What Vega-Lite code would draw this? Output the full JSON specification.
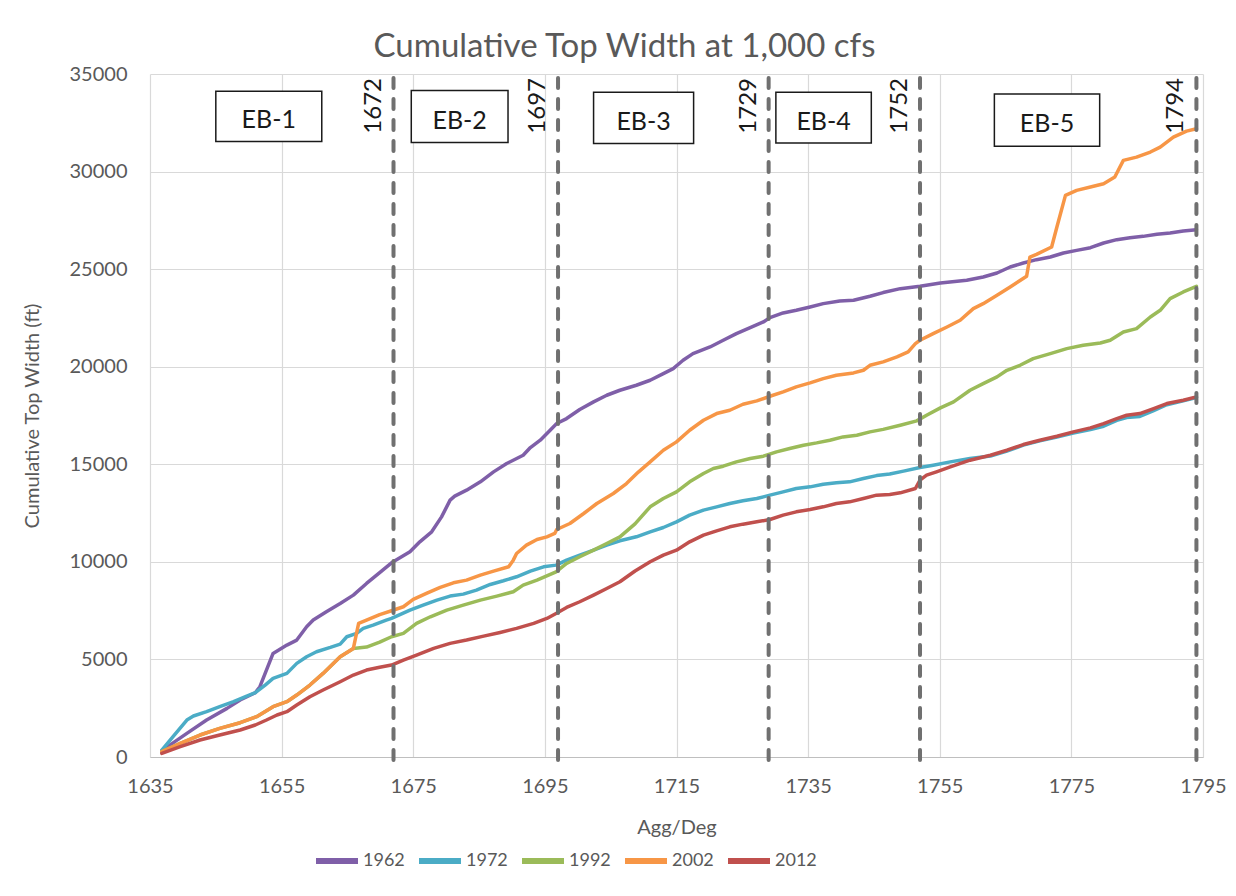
{
  "$schema": "https://vega.github.io/schema/vega-lite/v6.json",
  "autosize": {"type": "none"},
  "width": 1053,
  "height": 683,
  "padding": {"left": 150, "top": 74, "right": 33, "bottom": 139},
  "background": "white",
  "config": {
    "font": "Lato",
    "view": {"stroke": null},
    "axis": {
      "gridColor": "#d9d9d9",
      "gridWidth": 1.2,
      "domainColor": "#bfbfbf",
      "ticks": false,
      "labelColor": "#595959",
      "labelFontSize": 20,
      "titleColor": "#595959",
      "titleFontSize": 20,
      "titleFontWeight": "normal"
    }
  },
  "title": {
    "text": "Cumulative Top Width at 1,000 cfs",
    "fontSize": 33,
    "fontWeight": "normal",
    "color": "#595959",
    "anchor": "middle",
    "baseline": "alphabetic",
    "offset": -26,
    "dx": -52
  },
  "datasets": {
    "series": [
      {"year":"1962","station":1636.8,"width":324},
      {"year":"1962","station":1640.6,"width":1212},
      {"year":"1962","station":1643.6,"width":1895},
      {"year":"1962","station":1646.7,"width":2492},
      {"year":"1962","station":1648.7,"width":2919},
      {"year":"1962","station":1651.0,"width":3295},
      {"year":"1962","station":1651.7,"width":3602},
      {"year":"1962","station":1653.7,"width":5309},
      {"year":"1962","station":1655.8,"width":5736},
      {"year":"1962","station":1657.3,"width":5992},
      {"year":"1962","station":1658.8,"width":6675},
      {"year":"1962","station":1659.8,"width":7016},
      {"year":"1962","station":1661.8,"width":7443},
      {"year":"1962","station":1663.9,"width":7869},
      {"year":"1962","station":1665.9,"width":8296},
      {"year":"1962","station":1667.9,"width":8893},
      {"year":"1962","station":1669.9,"width":9450},
      {"year":"1962","station":1671.7,"width":9952},
      {"year":"1962","station":1674.5,"width":10515},
      {"year":"1962","station":1676.0,"width":11027},
      {"year":"1962","station":1677.8,"width":11539},
      {"year":"1962","station":1679.3,"width":12307},
      {"year":"1962","station":1680.6,"width":13161},
      {"year":"1962","station":1681.3,"width":13366},
      {"year":"1962","station":1683.1,"width":13673},
      {"year":"1962","station":1685.2,"width":14100},
      {"year":"1962","station":1687.2,"width":14612},
      {"year":"1962","station":1689.2,"width":15039},
      {"year":"1962","station":1691.7,"width":15465},
      {"year":"1962","station":1692.8,"width":15858},
      {"year":"1962","station":1694.3,"width":16234},
      {"year":"1962","station":1695.8,"width":16746},
      {"year":"1962","station":1696.8,"width":17087},
      {"year":"1962","station":1698.3,"width":17343},
      {"year":"1962","station":1700.3,"width":17804},
      {"year":"1962","station":1702.4,"width":18197},
      {"year":"1962","station":1704.4,"width":18538},
      {"year":"1962","station":1706.4,"width":18794},
      {"year":"1962","station":1708.9,"width":19050},
      {"year":"1962","station":1711.0,"width":19306},
      {"year":"1962","station":1713.0,"width":19648},
      {"year":"1962","station":1714.5,"width":19904},
      {"year":"1962","station":1716.0,"width":20330},
      {"year":"1962","station":1717.5,"width":20672},
      {"year":"1962","station":1720.1,"width":21013},
      {"year":"1962","station":1722.1,"width":21355},
      {"year":"1962","station":1724.1,"width":21696},
      {"year":"1962","station":1726.2,"width":22003},
      {"year":"1962","station":1728.2,"width":22293},
      {"year":"1962","station":1729.2,"width":22515},
      {"year":"1962","station":1731.2,"width":22754},
      {"year":"1962","station":1733.2,"width":22891},
      {"year":"1962","station":1735.3,"width":23062},
      {"year":"1962","station":1737.3,"width":23232},
      {"year":"1962","station":1739.8,"width":23369},
      {"year":"1962","station":1741.9,"width":23403},
      {"year":"1962","station":1744.4,"width":23608},
      {"year":"1962","station":1746.4,"width":23800},
      {"year":"1962","station":1749.0,"width":24000},
      {"year":"1962","station":1752.0,"width":24120},
      {"year":"1962","station":1755.1,"width":24291},
      {"year":"1962","station":1759.1,"width":24427},
      {"year":"1962","station":1761.6,"width":24598},
      {"year":"1962","station":1763.7,"width":24803},
      {"year":"1962","station":1765.7,"width":25110},
      {"year":"1962","station":1767.7,"width":25315},
      {"year":"1962","station":1769.7,"width":25485},
      {"year":"1962","station":1771.8,"width":25622},
      {"year":"1962","station":1773.8,"width":25827},
      {"year":"1962","station":1775.8,"width":25963},
      {"year":"1962","station":1777.9,"width":26100},
      {"year":"1962","station":1779.9,"width":26339},
      {"year":"1962","station":1781.9,"width":26510},
      {"year":"1962","station":1783.9,"width":26612},
      {"year":"1962","station":1785.9,"width":26680},
      {"year":"1962","station":1788.0,"width":26783},
      {"year":"1962","station":1790.0,"width":26851},
      {"year":"1962","station":1792.0,"width":26953},
      {"year":"1962","station":1794.0,"width":27022},

      {"year":"1972","station":1636.8,"width":358},
      {"year":"1972","station":1638.5,"width":1041},
      {"year":"1972","station":1640.6,"width":1895},
      {"year":"1972","station":1641.6,"width":2100},
      {"year":"1972","station":1643.6,"width":2322},
      {"year":"1972","station":1645.6,"width":2578},
      {"year":"1972","station":1647.7,"width":2834},
      {"year":"1972","station":1649.7,"width":3124},
      {"year":"1972","station":1651.0,"width":3295},
      {"year":"1972","station":1652.5,"width":3687},
      {"year":"1972","station":1653.7,"width":4029},
      {"year":"1972","station":1655.8,"width":4285},
      {"year":"1972","station":1657.3,"width":4797},
      {"year":"1972","station":1658.8,"width":5138},
      {"year":"1972","station":1660.3,"width":5394},
      {"year":"1972","station":1662.4,"width":5616},
      {"year":"1972","station":1663.9,"width":5787},
      {"year":"1972","station":1664.9,"width":6162},
      {"year":"1972","station":1666.4,"width":6333},
      {"year":"1972","station":1667.4,"width":6589},
      {"year":"1972","station":1668.9,"width":6760},
      {"year":"1972","station":1670.9,"width":7016},
      {"year":"1972","station":1671.7,"width":7101},
      {"year":"1972","station":1674.5,"width":7528},
      {"year":"1972","station":1676.5,"width":7784},
      {"year":"1972","station":1678.6,"width":8040},
      {"year":"1972","station":1680.6,"width":8245},
      {"year":"1972","station":1682.6,"width":8347},
      {"year":"1972","station":1684.6,"width":8552},
      {"year":"1972","station":1686.7,"width":8842},
      {"year":"1972","station":1688.7,"width":9030},
      {"year":"1972","station":1690.7,"width":9235},
      {"year":"1972","station":1692.8,"width":9525},
      {"year":"1972","station":1694.8,"width":9747},
      {"year":"1972","station":1696.7,"width":9832},
      {"year":"1972","station":1698.3,"width":10088},
      {"year":"1972","station":1700.3,"width":10344},
      {"year":"1972","station":1702.4,"width":10600},
      {"year":"1972","station":1704.4,"width":10856},
      {"year":"1972","station":1706.4,"width":11078},
      {"year":"1972","station":1708.9,"width":11283},
      {"year":"1972","station":1711.0,"width":11539},
      {"year":"1972","station":1713.0,"width":11761},
      {"year":"1972","station":1715.0,"width":12051},
      {"year":"1972","station":1717.0,"width":12393},
      {"year":"1972","station":1719.1,"width":12649},
      {"year":"1972","station":1721.1,"width":12820},
      {"year":"1972","station":1723.1,"width":12990},
      {"year":"1972","station":1725.1,"width":13127},
      {"year":"1972","station":1727.2,"width":13246},
      {"year":"1972","station":1729.2,"width":13417},
      {"year":"1972","station":1731.2,"width":13588},
      {"year":"1972","station":1733.2,"width":13758},
      {"year":"1972","station":1735.3,"width":13844},
      {"year":"1972","station":1737.3,"width":13980},
      {"year":"1972","station":1739.3,"width":14049},
      {"year":"1972","station":1741.3,"width":14100},
      {"year":"1972","station":1743.4,"width":14271},
      {"year":"1972","station":1745.4,"width":14420},
      {"year":"1972","station":1747.4,"width":14500},
      {"year":"1972","station":1749.5,"width":14650},
      {"year":"1972","station":1752.0,"width":14834},
      {"year":"1972","station":1754.0,"width":14953},
      {"year":"1972","station":1756.6,"width":15124},
      {"year":"1972","station":1759.6,"width":15295},
      {"year":"1972","station":1762.7,"width":15420},
      {"year":"1972","station":1765.2,"width":15680},
      {"year":"1972","station":1767.7,"width":15980},
      {"year":"1972","station":1770.2,"width":16200},
      {"year":"1972","station":1772.8,"width":16400},
      {"year":"1972","station":1775.3,"width":16600},
      {"year":"1972","station":1777.9,"width":16780},
      {"year":"1972","station":1779.9,"width":16950},
      {"year":"1972","station":1781.9,"width":17250},
      {"year":"1972","station":1783.4,"width":17400},
      {"year":"1972","station":1785.4,"width":17450},
      {"year":"1972","station":1787.5,"width":17750},
      {"year":"1972","station":1789.5,"width":18050},
      {"year":"1972","station":1792.0,"width":18250},
      {"year":"1972","station":1794.0,"width":18420},

      {"year":"1992","station":1636.8,"width":273},
      {"year":"1992","station":1639.6,"width":700},
      {"year":"1992","station":1642.6,"width":1126},
      {"year":"1992","station":1645.6,"width":1468},
      {"year":"1992","station":1648.7,"width":1758},
      {"year":"1992","station":1651.2,"width":2066},
      {"year":"1992","station":1653.7,"width":2578},
      {"year":"1992","station":1655.8,"width":2834},
      {"year":"1992","station":1657.3,"width":3175},
      {"year":"1992","station":1659.3,"width":3687},
      {"year":"1992","station":1661.3,"width":4285},
      {"year":"1992","station":1663.9,"width":5138},
      {"year":"1992","station":1665.9,"width":5565},
      {"year":"1992","station":1667.9,"width":5633},
      {"year":"1992","station":1669.9,"width":5889},
      {"year":"1992","station":1671.7,"width":6162},
      {"year":"1992","station":1673.5,"width":6333},
      {"year":"1992","station":1675.5,"width":6845},
      {"year":"1992","station":1677.6,"width":7186},
      {"year":"1992","station":1680.1,"width":7528},
      {"year":"1992","station":1682.6,"width":7784},
      {"year":"1992","station":1685.2,"width":8040},
      {"year":"1992","station":1687.7,"width":8245},
      {"year":"1992","station":1690.2,"width":8467},
      {"year":"1992","station":1691.7,"width":8808},
      {"year":"1992","station":1693.8,"width":9064},
      {"year":"1992","station":1696.7,"width":9491},
      {"year":"1992","station":1698.3,"width":9918},
      {"year":"1992","station":1700.3,"width":10259},
      {"year":"1992","station":1702.4,"width":10600},
      {"year":"1992","station":1704.4,"width":10942},
      {"year":"1992","station":1706.4,"width":11283},
      {"year":"1992","station":1708.7,"width":11950},
      {"year":"1992","station":1711.0,"width":12820},
      {"year":"1992","station":1713.0,"width":13246},
      {"year":"1992","station":1715.0,"width":13588},
      {"year":"1992","station":1717.0,"width":14100},
      {"year":"1992","station":1719.1,"width":14527},
      {"year":"1992","station":1720.6,"width":14783},
      {"year":"1992","station":1722.1,"width":14902},
      {"year":"1992","station":1724.1,"width":15124},
      {"year":"1992","station":1726.2,"width":15295},
      {"year":"1992","station":1728.2,"width":15414},
      {"year":"1992","station":1730.2,"width":15636},
      {"year":"1992","station":1732.2,"width":15807},
      {"year":"1992","station":1734.3,"width":15978},
      {"year":"1992","station":1736.3,"width":16097},
      {"year":"1992","station":1738.3,"width":16234},
      {"year":"1992","station":1740.3,"width":16404},
      {"year":"1992","station":1742.4,"width":16490},
      {"year":"1992","station":1744.4,"width":16660},
      {"year":"1992","station":1746.4,"width":16790},
      {"year":"1992","station":1749.0,"width":17002},
      {"year":"1992","station":1751.5,"width":17224},
      {"year":"1992","station":1753.0,"width":17514},
      {"year":"1992","station":1755.1,"width":17889},
      {"year":"1992","station":1757.1,"width":18197},
      {"year":"1992","station":1759.6,"width":18794},
      {"year":"1992","station":1761.6,"width":19135},
      {"year":"1992","station":1763.7,"width":19477},
      {"year":"1992","station":1765.2,"width":19818},
      {"year":"1992","station":1767.2,"width":20074},
      {"year":"1992","station":1769.2,"width":20416},
      {"year":"1992","station":1771.8,"width":20672},
      {"year":"1992","station":1774.3,"width":20928},
      {"year":"1992","station":1776.8,"width":21099},
      {"year":"1992","station":1779.4,"width":21218},
      {"year":"1992","station":1780.9,"width":21355},
      {"year":"1992","station":1782.9,"width":21781},
      {"year":"1992","station":1784.9,"width":21952},
      {"year":"1992","station":1787.0,"width":22549},
      {"year":"1992","station":1788.5,"width":22891},
      {"year":"1992","station":1790.0,"width":23488},
      {"year":"1992","station":1792.0,"width":23830},
      {"year":"1992","station":1794.0,"width":24120},

      {"year":"2002","station":1636.8,"width":273},
      {"year":"2002","station":1639.6,"width":700},
      {"year":"2002","station":1642.6,"width":1126},
      {"year":"2002","station":1645.6,"width":1468},
      {"year":"2002","station":1648.7,"width":1758},
      {"year":"2002","station":1651.2,"width":2066},
      {"year":"2002","station":1653.7,"width":2578},
      {"year":"2002","station":1655.8,"width":2834},
      {"year":"2002","station":1657.3,"width":3175},
      {"year":"2002","station":1659.3,"width":3687},
      {"year":"2002","station":1661.3,"width":4285},
      {"year":"2002","station":1663.9,"width":5138},
      {"year":"2002","station":1665.9,"width":5565},
      {"year":"2002","station":1666.7,"width":6845},
      {"year":"2002","station":1667.9,"width":7016},
      {"year":"2002","station":1669.9,"width":7300},
      {"year":"2002","station":1671.7,"width":7494},
      {"year":"2002","station":1673.5,"width":7699},
      {"year":"2002","station":1675.0,"width":8074},
      {"year":"2002","station":1677.0,"width":8381},
      {"year":"2002","station":1679.1,"width":8689},
      {"year":"2002","station":1681.1,"width":8928},
      {"year":"2002","station":1683.1,"width":9064},
      {"year":"2002","station":1685.2,"width":9320},
      {"year":"2002","station":1687.2,"width":9525},
      {"year":"2002","station":1689.5,"width":9747},
      {"year":"2002","station":1690.2,"width":10088},
      {"year":"2002","station":1690.7,"width":10430},
      {"year":"2002","station":1692.2,"width":10856},
      {"year":"2002","station":1693.8,"width":11147},
      {"year":"2002","station":1695.3,"width":11283},
      {"year":"2002","station":1696.5,"width":11454},
      {"year":"2002","station":1696.8,"width":11659},
      {"year":"2002","station":1698.8,"width":11966},
      {"year":"2002","station":1700.9,"width":12478},
      {"year":"2002","station":1702.9,"width":12990},
      {"year":"2002","station":1705.4,"width":13502},
      {"year":"2002","station":1707.4,"width":14014},
      {"year":"2002","station":1709.2,"width":14600},
      {"year":"2002","station":1711.0,"width":15124},
      {"year":"2002","station":1713.0,"width":15721},
      {"year":"2002","station":1715.0,"width":16148},
      {"year":"2002","station":1717.0,"width":16746},
      {"year":"2002","station":1719.1,"width":17258},
      {"year":"2002","station":1721.1,"width":17599},
      {"year":"2002","station":1723.1,"width":17770},
      {"year":"2002","station":1725.1,"width":18077},
      {"year":"2002","station":1727.2,"width":18248},
      {"year":"2002","station":1729.2,"width":18487},
      {"year":"2002","station":1731.2,"width":18709},
      {"year":"2002","station":1733.2,"width":18965},
      {"year":"2002","station":1735.3,"width":19170},
      {"year":"2002","station":1737.3,"width":19392},
      {"year":"2002","station":1739.3,"width":19562},
      {"year":"2002","station":1741.9,"width":19682},
      {"year":"2002","station":1743.4,"width":19818},
      {"year":"2002","station":1744.4,"width":20074},
      {"year":"2002","station":1746.4,"width":20250},
      {"year":"2002","station":1748.5,"width":20501},
      {"year":"2002","station":1750.2,"width":20757},
      {"year":"2002","station":1751.3,"width":21184},
      {"year":"2002","station":1752.0,"width":21355},
      {"year":"2002","station":1754.0,"width":21696},
      {"year":"2002","station":1756.1,"width":22037},
      {"year":"2002","station":1758.1,"width":22379},
      {"year":"2002","station":1760.1,"width":22976},
      {"year":"2002","station":1761.6,"width":23232},
      {"year":"2002","station":1763.7,"width":23659},
      {"year":"2002","station":1765.7,"width":24086},
      {"year":"2002","station":1768.2,"width":24632},
      {"year":"2002","station":1768.7,"width":25622},
      {"year":"2002","station":1769.7,"width":25758},
      {"year":"2002","station":1772.0,"width":26134},
      {"year":"2002","station":1772.8,"width":27158},
      {"year":"2002","station":1774.1,"width":28780},
      {"year":"2002","station":1775.8,"width":29036},
      {"year":"2002","station":1777.9,"width":29207},
      {"year":"2002","station":1779.9,"width":29378},
      {"year":"2002","station":1781.6,"width":29719},
      {"year":"2002","station":1782.9,"width":30573},
      {"year":"2002","station":1784.9,"width":30743},
      {"year":"2002","station":1787.0,"width":31000},
      {"year":"2002","station":1788.5,"width":31255},
      {"year":"2002","station":1790.5,"width":31767},
      {"year":"2002","station":1792.5,"width":32075},
      {"year":"2002","station":1794.0,"width":32194},

      {"year":"2012","station":1636.8,"width":188},
      {"year":"2012","station":1639.6,"width":529},
      {"year":"2012","station":1642.6,"width":870},
      {"year":"2012","station":1645.6,"width":1126},
      {"year":"2012","station":1648.7,"width":1382},
      {"year":"2012","station":1651.0,"width":1639},
      {"year":"2012","station":1652.7,"width":1895},
      {"year":"2012","station":1654.3,"width":2151},
      {"year":"2012","station":1655.8,"width":2322},
      {"year":"2012","station":1657.3,"width":2663},
      {"year":"2012","station":1659.3,"width":3090},
      {"year":"2012","station":1661.3,"width":3431},
      {"year":"2012","station":1663.9,"width":3858},
      {"year":"2012","station":1665.9,"width":4200},
      {"year":"2012","station":1667.9,"width":4456},
      {"year":"2012","station":1669.9,"width":4600},
      {"year":"2012","station":1671.7,"width":4711},
      {"year":"2012","station":1673.5,"width":4967},
      {"year":"2012","station":1675.5,"width":5223},
      {"year":"2012","station":1678.1,"width":5565},
      {"year":"2012","station":1680.6,"width":5821},
      {"year":"2012","station":1683.1,"width":5992},
      {"year":"2012","station":1685.7,"width":6196},
      {"year":"2012","station":1688.2,"width":6384},
      {"year":"2012","station":1690.7,"width":6589},
      {"year":"2012","station":1693.3,"width":6845},
      {"year":"2012","station":1695.3,"width":7101},
      {"year":"2012","station":1696.7,"width":7357},
      {"year":"2012","station":1698.3,"width":7664},
      {"year":"2012","station":1700.3,"width":7955},
      {"year":"2012","station":1702.4,"width":8296},
      {"year":"2012","station":1704.4,"width":8637},
      {"year":"2012","station":1706.4,"width":8979},
      {"year":"2012","station":1708.7,"width":9530},
      {"year":"2012","station":1711.0,"width":10003},
      {"year":"2012","station":1713.0,"width":10344},
      {"year":"2012","station":1715.0,"width":10600},
      {"year":"2012","station":1717.0,"width":11027},
      {"year":"2012","station":1719.1,"width":11369},
      {"year":"2012","station":1721.1,"width":11591},
      {"year":"2012","station":1723.1,"width":11795},
      {"year":"2012","station":1725.1,"width":11932},
      {"year":"2012","station":1727.2,"width":12051},
      {"year":"2012","station":1729.2,"width":12171},
      {"year":"2012","station":1731.2,"width":12393},
      {"year":"2012","station":1733.2,"width":12564},
      {"year":"2012","station":1735.3,"width":12683},
      {"year":"2012","station":1737.3,"width":12820},
      {"year":"2012","station":1739.3,"width":12990},
      {"year":"2012","station":1741.3,"width":13075},
      {"year":"2012","station":1743.4,"width":13246},
      {"year":"2012","station":1745.4,"width":13417},
      {"year":"2012","station":1747.4,"width":13450},
      {"year":"2012","station":1749.0,"width":13537},
      {"year":"2012","station":1751.3,"width":13759},
      {"year":"2012","station":1752.0,"width":14185},
      {"year":"2012","station":1753.0,"width":14441},
      {"year":"2012","station":1754.5,"width":14612},
      {"year":"2012","station":1756.6,"width":14868},
      {"year":"2012","station":1759.6,"width":15209},
      {"year":"2012","station":1762.7,"width":15465},
      {"year":"2012","station":1765.2,"width":15721},
      {"year":"2012","station":1767.7,"width":16012},
      {"year":"2012","station":1770.2,"width":16234},
      {"year":"2012","station":1772.8,"width":16438},
      {"year":"2012","station":1775.3,"width":16660},
      {"year":"2012","station":1777.9,"width":16865},
      {"year":"2012","station":1779.9,"width":17087},
      {"year":"2012","station":1781.9,"width":17343},
      {"year":"2012","station":1783.4,"width":17514},
      {"year":"2012","station":1785.4,"width":17599},
      {"year":"2012","station":1787.5,"width":17855},
      {"year":"2012","station":1789.5,"width":18111},
      {"year":"2012","station":1792.0,"width":18282},
      {"year":"2012","station":1794.0,"width":18453}
    ],
    "bounds": [
      {"station": 1672},
      {"station": 1697},
      {"station": 1729},
      {"station": 1752},
      {"station": 1794}
    ],
    "reaches": [
      {"reach": "EB-1", "from": 1645.0, "to": 1661.1, "low": 31540, "high": 34110},
      {"reach": "EB-2", "from": 1674.7, "to": 1689.4, "low": 31490, "high": 34150},
      {"reach": "EB-3", "from": 1702.4, "to": 1717.6, "low": 31440, "high": 34070},
      {"reach": "EB-4", "from": 1730.1, "to": 1744.6, "low": 31470, "high": 34070},
      {"reach": "EB-5", "from": 1763.3, "to": 1779.3, "low": 31300, "high": 33980}
    ]
  },
  "layer": [
    {
      "data": {"name": "series"},
      "mark": {"type": "line", "strokeWidth": 3.5, "strokeJoin": "round", "strokeCap": "round"},
      "encoding": {
        "x": {
          "field": "station", "type": "quantitative", "title": "Agg/Deg",
          "scale": {"domain": [1635, 1795], "nice": false, "zero": false},
          "axis": {"values": [1635, 1655, 1675, 1695, 1715, 1735, 1755, 1775, 1795], "format": "d", "labelPadding": 19, "titlePadding": 21, "labelFlush": false}
        },
        "y": {
          "field": "width", "type": "quantitative", "title": "Cumulative Top Width (ft)",
          "scale": {"domain": [0, 35000], "nice": false},
          "axis": {"values": [0, 5000, 10000, 15000, 20000, 25000, 30000, 35000], "format": "d", "labelPadding": 23, "titlePadding": 27, "domain": false}
        },
        "color": {
          "field": "year", "type": "nominal",
          "scale": {"domain": ["1962", "1972", "1992", "2002", "2012"], "range": ["#7f5fa8", "#4bacc6", "#9bbb59", "#f79646", "#c0504d"]},
          "legend": {
            "title": null, "orient": "none", "direction": "horizontal",
            "legendX": 163, "legendY": 763,
            "symbolType": "stroke", "symbolStrokeWidth": 6, "symbolSize": 1764,
            "labelFontSize": 18, "labelColor": "#595959", "labelOffset": 2,
            "columnPadding": 2
          }
        }
      }
    },
    {
      "data": {"name": "bounds"},
      "mark": {"type": "rule", "color": "#707070", "strokeWidth": 4, "strokeDash": [10, 11], "strokeCap": "round"},
      "encoding": {
        "x": {"field": "station", "type": "quantitative", "title": "Agg/Deg"},
        "y": {"datum": 34800},
        "y2": {"datum": -350}
      }
    },
    {
      "data": {"name": "bounds"},
      "mark": {"type": "text", "angle": 270, "align": "right", "baseline": "alphabetic", "dx": -4, "dy": -13, "fontSize": 24, "color": "#1a1a1a"},
      "encoding": {
        "x": {"field": "station", "type": "quantitative", "title": "Agg/Deg"},
        "y": {"datum": 35000},
        "text": {"field": "station", "type": "quantitative", "format": "d"}
      }
    },
    {
      "data": {"name": "reaches"},
      "mark": {"type": "rect", "fill": "white", "stroke": "#1a1a1a", "strokeWidth": 1.5},
      "encoding": {
        "x": {"field": "from", "type": "quantitative", "title": "Agg/Deg"},
        "x2": {"field": "to"},
        "y": {"field": "low", "type": "quantitative", "title": "Cumulative Top Width (ft)"},
        "y2": {"field": "high"}
      }
    },
    {
      "data": {"name": "reaches"},
      "transform": [
        {"calculate": "(datum.from + datum.to) / 2", "as": "mid_station"},
        {"calculate": "(datum.low + datum.high) / 2", "as": "mid_width"}
      ],
      "mark": {"type": "text", "fontSize": 25, "color": "#1a1a1a", "baseline": "middle", "dy": 4},
      "encoding": {
        "x": {"field": "mid_station", "type": "quantitative", "title": "Agg/Deg"},
        "y": {"field": "mid_width", "type": "quantitative", "title": "Cumulative Top Width (ft)"},
        "text": {"field": "reach"}
      }
    }
  ]
}
